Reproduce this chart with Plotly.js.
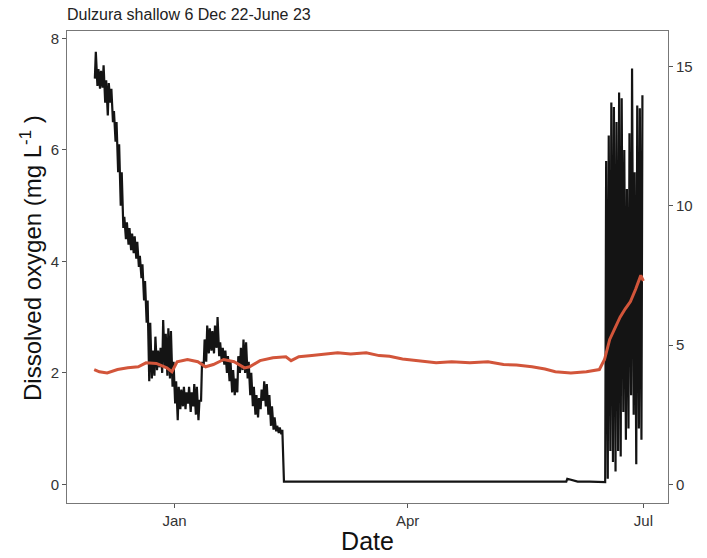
<!DOCTYPE html>
<html>
<head>
<meta charset="utf-8">
<script src="https://cdn.plot.ly/plotly-3.0.1.min.js"></script>
<style>
  html, body { margin: 0; padding: 0; background: #fff; }
  #chart { width: 707px; height: 558px; }
</style>
</head>
<body>
<div id="chart"></div>
<script>
// Daily dissolved-oxygen record (mg/L): overnight low and afternoon high per logged day
const doDays = [
  '2022-12-01','2022-12-02','2022-12-03','2022-12-04','2022-12-05','2022-12-06','2022-12-07','2022-12-08',
  '2022-12-09','2022-12-10','2022-12-11','2022-12-12','2022-12-13','2022-12-14','2022-12-15','2022-12-16',
  '2022-12-17','2022-12-18','2022-12-19','2022-12-20','2022-12-21','2022-12-22','2022-12-23','2022-12-24',
  '2022-12-25','2022-12-26','2022-12-27','2022-12-28','2022-12-29','2022-12-30','2022-12-31',
  '2023-01-01','2023-01-02','2023-01-03','2023-01-04','2023-01-05','2023-01-06','2023-01-07','2023-01-08',
  '2023-01-09','2023-01-10','2023-01-11','2023-01-12','2023-01-13','2023-01-14','2023-01-15','2023-01-16',
  '2023-01-17','2023-01-18','2023-01-19','2023-01-20','2023-01-21','2023-01-22','2023-01-23','2023-01-24',
  '2023-01-25','2023-01-26','2023-01-27','2023-01-28','2023-01-29','2023-01-30','2023-01-31',
  '2023-02-01','2023-02-02','2023-02-03','2023-02-04','2023-02-05','2023-02-06','2023-02-07','2023-02-08',
  '2023-02-09','2023-02-10','2023-02-11',
  '2023-02-12','2023-02-20','2023-03-01','2023-03-10','2023-03-20','2023-04-01','2023-04-10','2023-04-20',
  '2023-05-01','2023-05-10','2023-05-20','2023-06-01','2023-06-05','2023-06-10','2023-06-14',
  '2023-06-15','2023-06-16','2023-06-17','2023-06-18','2023-06-19','2023-06-20','2023-06-21','2023-06-22',
  '2023-06-23','2023-06-24','2023-06-25','2023-06-26','2023-06-27','2023-06-28','2023-06-29','2023-06-30'
];
const doLow = [
  7.28, 7.15, 7.10, 7.12, 6.85, 6.62, 6.85, 6.50,
  6.15, 5.60, 5.00, 4.60, 4.40, 4.30, 4.20, 4.15,
  4.05, 3.90, 3.70, 3.30, 2.90, 1.85, 1.90, 1.95,
  2.05, 2.10, 2.00, 2.10, 1.95, 1.90, 1.75,
  1.45, 1.15, 1.35, 1.40, 1.35, 1.45, 1.30, 1.40,
  1.25, 1.15, 1.50, 2.10, 2.20, 2.35, 2.40, 2.35,
  2.45, 2.30, 2.20, 2.15, 2.00, 1.85, 1.65, 1.60,
  1.65, 2.00, 2.05, 2.00, 1.90, 1.60, 1.40,
  1.25, 1.20, 1.35, 1.50, 1.40, 1.25, 1.05, 0.98,
  0.95, 0.92, 0.90,
  0.05, 0.05, 0.05, 0.05, 0.05, 0.05, 0.05, 0.05,
  0.05, 0.05, 0.05, 0.05, 0.05, 0.05, 0.05,
  0.04, 0.04, 0.10, 0.60, 0.40, 0.23, 0.60, 0.50,
  1.30, 0.80, 1.00, 1.60, 1.25, 0.36, 1.00, 0.80
];
const doHigh = [
  7.76, 7.45, 7.42, 7.52, 7.25, 7.20, 7.10, 6.70,
  6.50, 6.10, 5.60, 4.80, 4.70, 4.60, 4.50, 4.45,
  4.35, 4.10, 3.95, 3.65, 3.30, 2.90, 2.40, 2.65,
  2.40, 2.45, 2.95, 2.70, 2.80, 2.75, 2.20,
  1.85, 1.75, 1.70, 1.75, 1.65, 1.75, 1.65, 1.80,
  1.75, 1.50, 2.20, 2.60, 2.85, 2.80, 2.75, 2.85,
  3.00, 2.55, 2.45, 2.40, 2.30, 2.20, 2.05, 1.90,
  2.30, 2.45, 2.60, 2.55, 2.20, 2.00, 1.75,
  1.60, 1.55, 1.70, 1.85, 1.80, 1.60, 1.40, 1.20,
  1.05, 1.02, 0.98,
  0.05, 0.05, 0.05, 0.05, 0.05, 0.05, 0.05, 0.05,
  0.05, 0.05, 0.05, 0.10, 0.05, 0.05, 0.05,
  0.05, 5.80, 6.26, 6.85, 6.77, 6.50, 7.03, 6.93,
  6.00, 5.30, 6.30, 7.46, 5.60, 6.80, 6.75, 6.98
];

// Second logged series, expressed in left-axis units (right axis reads it doubled)
const series2Dates = [
  '2022-12-01','2022-12-03','2022-12-06','2022-12-10','2022-12-14','2022-12-18','2022-12-21','2022-12-25',
  '2022-12-29','2022-12-31','2023-01-02','2023-01-06','2023-01-10','2023-01-13','2023-01-16','2023-01-20',
  '2023-01-24','2023-01-28','2023-01-30','2023-02-03','2023-02-08','2023-02-13','2023-02-15','2023-02-18',
  '2023-02-23','2023-02-28','2023-03-05','2023-03-10','2023-03-16','2023-03-21','2023-03-25','2023-03-30',
  '2023-04-05','2023-04-12','2023-04-18','2023-04-25','2023-05-02','2023-05-08','2023-05-13','2023-05-19',
  '2023-05-24','2023-05-28','2023-06-03','2023-06-09','2023-06-14','2023-06-16','2023-06-18','2023-06-20',
  '2023-06-22','2023-06-24','2023-06-26','2023-06-28','2023-06-30','2023-07-01'
];
const series2Values = [
  2.06, 2.02, 2.00, 2.06, 2.09, 2.11, 2.18, 2.17,
  2.09, 2.02, 2.20, 2.24, 2.20, 2.11, 2.15, 2.24,
  2.20, 2.09, 2.11, 2.22, 2.27, 2.29, 2.22, 2.29,
  2.31, 2.34, 2.36, 2.34, 2.36, 2.31, 2.30, 2.25,
  2.22, 2.18, 2.20, 2.18, 2.20, 2.15, 2.14, 2.11,
  2.07, 2.02, 2.00, 2.02, 2.06, 2.24, 2.60, 2.80,
  3.00, 3.15, 3.28, 3.50, 3.75, 3.65
];

const monthTicks = ['2023-01-01', '2023-04-01', '2023-07-01'];
const monthLabels = ['Jan', 'Apr', 'Jul'];
const leftTicks = [0, 2, 4, 6, 8];
const rightTicks = [0, 5, 10, 15];

// Expand each logged day into its low (early morning) and high (afternoon) reading
const doX = [], doY = [];
doDays.forEach((d, i) => {
  doX.push(d + ' 06:00'); doY.push(doLow[i]);
  doX.push(d + ' 15:00'); doY.push(doHigh[i]);
});

const yRange = [-0.335, 8.135];
const font = 'Liberation Sans, Arial, Helvetica, sans-serif';
const tickFont = { family: font, size: 15, color: '#333' };

const traces = [
  {
    x: doX, y: doY, type: 'scatter', mode: 'lines',
    line: { color: '#141414', width: 2.2 },
    hoverinfo: 'skip', showlegend: false
  },
  {
    x: series2Dates, y: series2Values, type: 'scatter', mode: 'lines',
    line: { color: '#d2553a', width: 3 },
    hoverinfo: 'skip', showlegend: false
  },
  {
    // invisible carrier so the right-hand axis is drawn
    x: [series2Dates[0]], y: [null], yaxis: 'y2', type: 'scatter', mode: 'lines',
    hoverinfo: 'skip', showlegend: false
  }
];

const layout = {
  width: 707, height: 558,
  margin: { l: 67, r: 39, t: 31, b: 55 },
  paper_bgcolor: '#fff', plot_bgcolor: '#fff',
  title: {
    text: 'Dulzura shallow 6 Dec 22-June 23',
    font: { family: font, size: 16, color: '#222' },
    x: 67 / 707, xanchor: 'left', xref: 'container',
    y: 1 - 14 / 558, yanchor: 'middle', yref: 'container'
  },
  xaxis: {
    type: 'date',
    range: ['2022-11-20 12:00', '2023-07-10 12:00'],
    tickmode: 'array', tickvals: monthTicks, ticktext: monthLabels,
    ticks: 'outside', ticklen: 4, tickcolor: '#555', tickwidth: 1,
    tickfont: tickFont,
    showgrid: false, zeroline: false,
    showline: true, mirror: true, linecolor: '#777', linewidth: 1,
    title: { text: 'Date', font: { family: font, size: 25, color: '#111' }, standoff: 4 }
  },
  yaxis: {
    range: yRange,
    tickmode: 'array', tickvals: leftTicks,
    ticks: 'outside', ticklen: 4, tickcolor: '#555', tickwidth: 1,
    tickfont: tickFont,
    showgrid: false, zeroline: false,
    showline: true, mirror: true, linecolor: '#777', linewidth: 1
  },
  yaxis2: {
    overlaying: 'y', side: 'right',
    range: [yRange[0] * 2, yRange[1] * 2],
    tickmode: 'array', tickvals: rightTicks,
    ticks: 'outside', ticklen: 4, tickcolor: '#555', tickwidth: 1,
    tickfont: tickFont,
    showgrid: false, zeroline: false, showline: false
  },
  annotations: [{
    text: 'Dissolved oxygen (mg L<sup>-1</sup> )',
    textangle: -90, showarrow: false,
    xref: 'paper', yref: 'paper',
    x: (31 - 67) / 601, y: (503 - 258) / 472,
    xanchor: 'center', yanchor: 'middle',
    font: { family: font, size: 24, color: '#111' }
  }]
};

Plotly.newPlot('chart', traces, layout, { staticPlot: true, displayModeBar: false });
</script>
</body>
</html>
